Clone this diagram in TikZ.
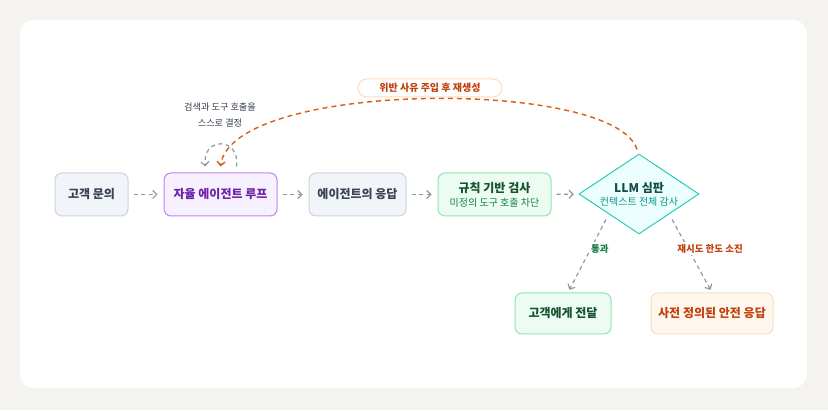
\documentclass[tikz,border=0pt]{standalone}
\usepackage{fontspec}
\setmainfont{Noto Sans CJK KR}
\usepackage{xcolor}
\usetikzlibrary{shapes.geometric, arrows.meta, positioning, calc}
\definecolor{pagebg}{HTML}{F4F3EF}
\definecolor{grayfill}{HTML}{F1F4F8}
\definecolor{grayline}{HTML}{CCD4DF}
\definecolor{graytext}{HTML}{374151}
\definecolor{purplefill}{HTML}{F7F0FE}
\definecolor{purpleline}{HTML}{BE85F0}
\definecolor{purpletext}{HTML}{6B21A8}
\definecolor{greenfill}{HTML}{EDFCF3}
\definecolor{greenline}{HTML}{8EE5AE}
\definecolor{greentext}{HTML}{14532D}
\definecolor{greensub}{HTML}{15803D}
\definecolor{tealfill}{HTML}{ECFEFD}
\definecolor{tealline}{HTML}{2DCDB8}
\definecolor{tealtext}{HTML}{134E4A}
\definecolor{tealsub}{HTML}{0D9488}
\definecolor{orangefill}{HTML}{FFF7ED}
\definecolor{orangeline}{HTML}{FCDDBE}
\definecolor{orangetext}{HTML}{C2410C}
\definecolor{retryline}{HTML}{DF5A12}
\definecolor{arrowgray}{HTML}{8F97AB}
\newcommand{\subfont}{\mdseries\fontsize{10}{12}\selectfont}
\tikzset{
  flowbox/.style={
    draw, rounded corners=7pt, line width=1pt, align=center,
    minimum height=43pt, inner sep=3pt,
    font=\bfseries\fontsize{12}{15}\selectfont
  },
  graybox/.style={flowbox, fill=grayfill, draw=grayline, text=graytext},
  purplebox/.style={flowbox, fill=purplefill, draw=purpleline, text=purpletext},
  greenbox/.style={flowbox, fill=greenfill, draw=greenline, text=greentext},
  orangebox/.style={flowbox, fill=orangefill, draw=orangeline, text=orangetext},
  judgediamond/.style={
    diamond, draw=tealline, fill=tealfill, line width=1pt,
    minimum width=120pt, minimum height=80pt, inner sep=0pt
  },
  flowarrow/.style={-{Straight Barb[length=4pt,width=8pt]}, line width=1.2pt,
    color=arrowgray, dash pattern=on 4pt off 3.5pt},
  retryarrow/.style={-{Straight Barb[length=4pt,width=8pt]}, line width=1.4pt,
    color=retryline, dash pattern=on 5pt off 4pt},
  edgelabel/.style={font=\bfseries\fontsize{9.5}{11}\selectfont, fill=white, inner sep=2pt},
  notelabel/.style={font=\fontsize{9.2}{16}\selectfont, text=graytext, align=center},
}

\begin{document}
\begin{tikzpicture}[x=1pt, y=1pt]
  % Background and card
  \fill[pagebg] (0,0) rectangle (828,410);
  \fill[white, rounded corners=14pt] (20,22) rectangle (807,390);

  % Main row
  \node[graybox, minimum width=73pt] (query) at (91.5,215.5) {고객 문의};
  \node[purplebox, minimum width=113pt] (loop) at (220.5,215.5) {자율 에이전트 루프};
  \node[graybox, minimum width=97pt] (resp) at (357.5,215.5) {에이전트의 응답};
  \node[greenbox, minimum width=113pt] (rule) at (494.5,215.5) {규칙 기반 검사\\[-1pt]{\subfont\color{greensub}미정의 도구 호출 차단}};

  % LLM judge
  \node[judgediamond] (judge) at (639,216) {};
  \node[align=center, text=tealtext, font=\bfseries\fontsize{12}{15}\selectfont] (judgetxt) at (639,216)
    {LLM 심판\\[-2pt]{\subfont\color{tealsub}컨텍스트 전체 감사}};

  % Outcomes
  \node[greenbox, minimum width=96pt, minimum height=41pt] (pass) at (563,96.5) {고객에게 전달};
  \node[orangebox, minimum width=122pt, minimum height=41pt] (safe) at (712,96.5) {사전 정의된 안전 응답};

  % Arrows
  \draw[flowarrow, shorten <=5pt, shorten >=6pt] (query) -- (loop);
  \draw[flowarrow, shorten <=5pt, shorten >=6pt] (loop) -- (resp);
  \draw[flowarrow, shorten <=5pt, shorten >=6pt] (resp) -- (rule);
  \draw[flowarrow, shorten <=5pt, shorten >=5pt] (rule) -- (judge);
  \draw[flowarrow, shorten <=6pt, shorten >=3pt] (judge.south west) -- ([xshift=5pt]pass.north)
    node[edgelabel, text=greensub, pos=0.44, xshift=9pt] (passlbl) {통과};
  \draw[flowarrow, shorten <=6pt, shorten >=3pt] (judge.south east) -- (safe.north)
    node[edgelabel, text=orangetext, pos=0.44, xshift=22pt] (retrylbl) {재시도 한도 소진};

  % Self loop
  \draw[flowarrow] ([xshift=16pt,yshift=6pt]loop.north)
    .. controls +(4,30) and +(-4,30) .. ([xshift=-15pt,yshift=6pt]loop.north);
  \node[notelabel] (note) at (220,295) {검색과 도구 호출을\\스스로 결정};

  % Retry feedback
  \draw[retryarrow] ([xshift=-2pt,yshift=4pt]judge.north)
    .. controls (615,332) and (232,330) .. ([yshift=6pt]loop.north);
  \node[draw=orangeline, fill=white, line width=1pt, rounded corners=9pt,
    minimum width=144pt, minimum height=18pt, inner sep=0pt, text=orangetext,
    font=\bfseries\fontsize{10}{11}\selectfont] (retrytag) at (430,322) {위반 사유 주입 후 재생성};
\end{tikzpicture}
\end{document}
